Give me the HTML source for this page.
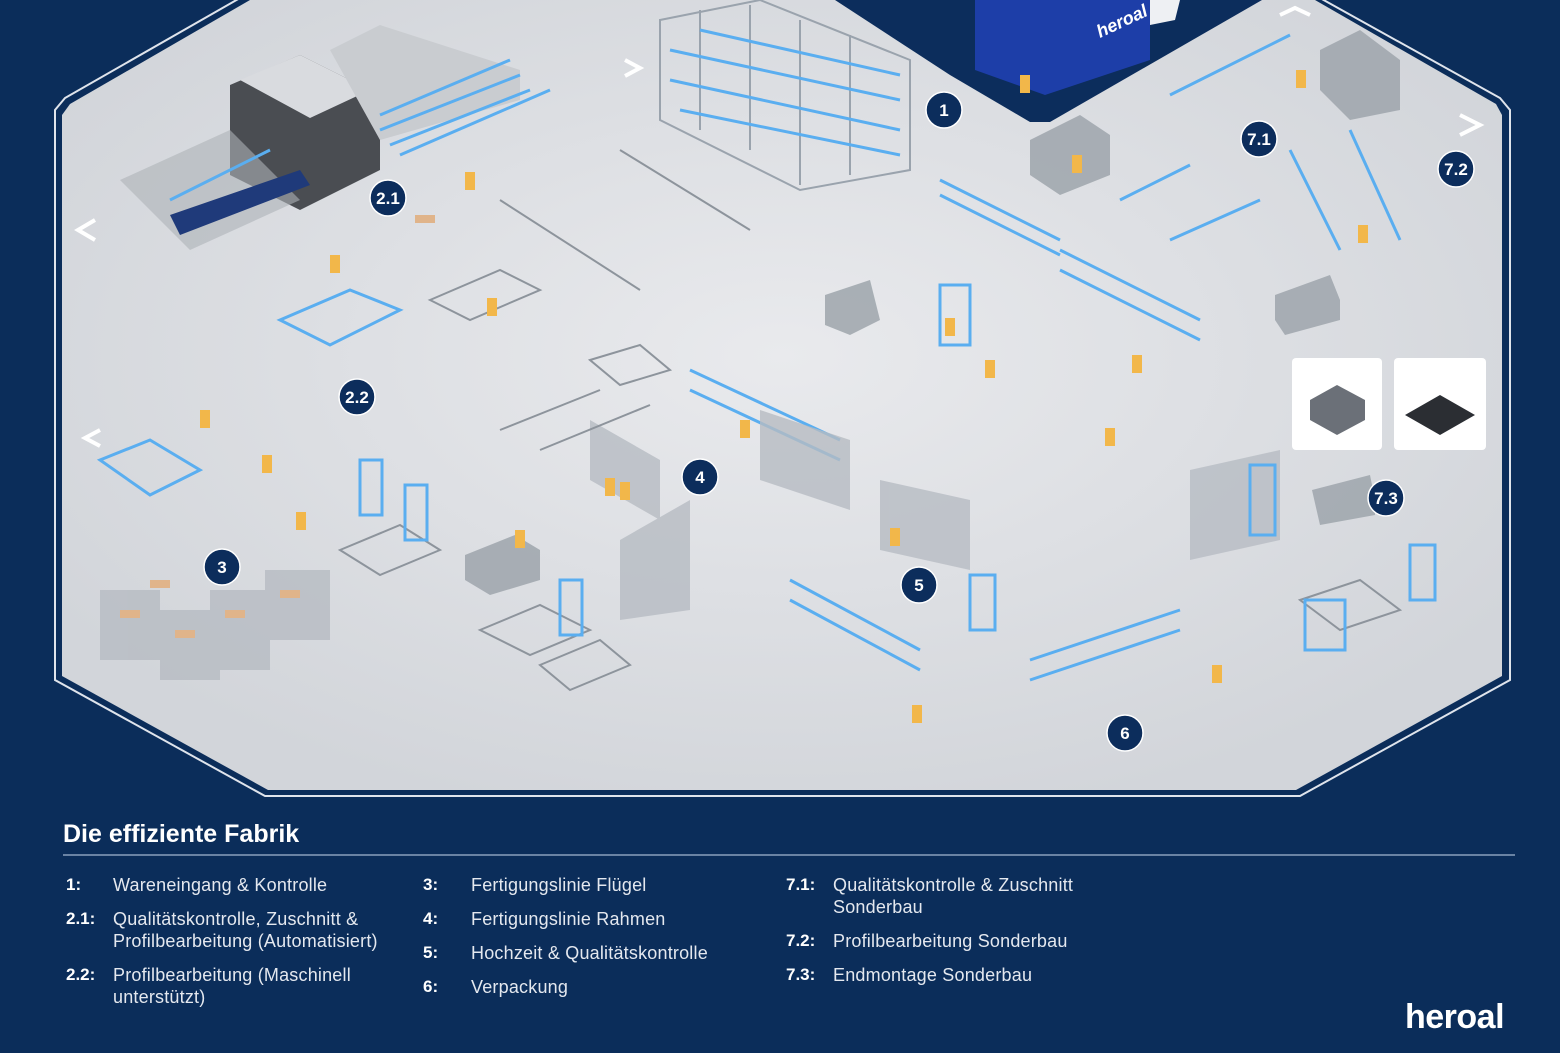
<!DOCTYPE html>
<html><head><meta charset="utf-8"><style>
html,body{margin:0;padding:0;background:#0b2d5a;width:1560px;height:1053px;overflow:hidden;font-family:"Liberation Sans",sans-serif}
.t{position:absolute;color:#e4e8ef;font-size:18px;line-height:22px;letter-spacing:0.2px}
.n{position:absolute;color:#fff;font-size:17px;font-weight:bold;line-height:22px}
</style></head><body>
<svg width="1560" height="1053" style="position:absolute;left:0;top:0">
<defs>
<radialGradient id="fl" cx="0.5" cy="0.45" r="0.6">
<stop offset="0" stop-color="#e9eaed"/><stop offset="1" stop-color="#d2d5da"/></radialGradient>
</defs>
<polygon points="240,-2 1320,-2 1500,98 1510,110 1510,680 1300,796 265,796 55,680 55,110 65,98" fill="none" stroke="#dfe4ec" stroke-width="2"/>
<polygon points="250,0 1315,0 1496,104 1502,115 1502,676 1296,790 268,790 62,676 62,115 70,104" fill="url(#fl)"/>
<!-- loading dock -->
<polygon points="835,0 1262,0 1050,122 1030,122 950,75" fill="#0c2d5c"/>
<polygon points="975,0 1150,0 1150,60 1045,95 975,70" fill="#1d3ea8"/>
<polygon points="1150,0 1180,0 1175,20 1150,25" fill="#eef0f3"/>
<text x="1100" y="38" fill="#fff" font-size="18" font-weight="bold" font-style="italic" transform="rotate(-25 1100 38)">heroal</text>
<!-- machine 2.1 -->
<polygon points="230,85 300,55 380,95 380,170 300,210 230,175" fill="#4a4d52"/>
<polygon points="240,80 300,55 370,90 310,118" fill="#d9dbdf"/>
<polygon points="120,180 230,130 300,200 190,250" fill="#aeb2b8" opacity="0.6"/>
<polygon points="170,215 300,170 310,185 180,235" fill="#1f3a7a"/>
<polygon points="330,50 380,25 520,70 520,100 380,140" fill="#c9ccd0"/>
<g stroke="#5aaef0" stroke-width="3">
<line x1="380" y1="115" x2="510" y2="60"/><line x1="380" y1="130" x2="520" y2="75"/><line x1="390" y1="145" x2="530" y2="90"/>
<line x1="400" y1="155" x2="550" y2="90"/><line x1="170" y1="200" x2="270" y2="150"/>
</g>
<g stroke="#9aa3ad" stroke-width="2" fill="none">
<polygon points="660,20 760,0 910,60 910,170 800,190 660,120"/>
<line x1="700" y1="10" x2="700" y2="130"/><line x1="750" y1="5" x2="750" y2="150"/><line x1="800" y1="20" x2="800" y2="185"/><line x1="850" y1="35" x2="850" y2="175"/>
</g>
<g stroke="#5aaef0" stroke-width="3">
<line x1="670" y1="50" x2="900" y2="100"/><line x1="670" y1="80" x2="900" y2="130"/><line x1="680" y1="110" x2="900" y2="155"/><line x1="700" y1="30" x2="900" y2="75"/>
<line x1="940" y1="180" x2="1060" y2="240"/><line x1="940" y1="195" x2="1060" y2="255"/>
<line x1="1060" y1="250" x2="1200" y2="320"/><line x1="1060" y1="270" x2="1200" y2="340"/>
<line x1="1170" y1="95" x2="1290" y2="35"/><line x1="1120" y1="200" x2="1190" y2="165"/><line x1="1170" y1="240" x2="1260" y2="200"/>
<line x1="690" y1="370" x2="840" y2="440"/><line x1="690" y1="390" x2="840" y2="460"/>
<line x1="1290" y1="150" x2="1340" y2="250"/><line x1="1350" y1="130" x2="1400" y2="240"/>
<line x1="790" y1="580" x2="920" y2="650"/><line x1="790" y1="600" x2="920" y2="670"/>
<line x1="1030" y1="660" x2="1180" y2="610"/><line x1="1030" y1="680" x2="1180" y2="630"/>
</g>
<g fill="#9ea4ac" opacity="0.85">
<polygon points="1030,140 1080,115 1110,135 1110,175 1060,195 1030,175"/>
<polygon points="1320,50 1360,30 1400,60 1400,110 1350,120 1320,90"/>
<polygon points="465,555 515,535 540,550 540,580 490,595 465,580"/>
<polygon points="1275,295 1330,275 1340,300 1340,320 1285,335 1275,320"/>
<polygon points="1312,490 1370,475 1375,500 1375,515 1320,525"/>
<polygon points="825,295 870,280 880,320 850,335 825,325"/>
</g>
<g fill="#b7bcc3" opacity="0.8">
<rect x="100" y="590" width="60" height="70"/><rect x="160" y="610" width="60" height="70"/><rect x="210" y="590" width="60" height="80"/><rect x="265" y="570" width="65" height="70"/>
<polygon points="590,420 660,460 660,520 590,480"/><polygon points="620,540 690,500 690,610 620,620"/>
<polygon points="760,410 850,440 850,510 760,480"/><polygon points="1190,470 1280,450 1280,540 1190,560"/>
<polygon points="880,480 970,500 970,570 880,550"/>
</g>
<g stroke="#8d949c" stroke-width="2" fill="none">
<polygon points="280,320 350,290 400,310 330,345"/><polygon points="430,300 500,270 540,290 470,320"/>
<polygon points="100,460 150,440 200,470 150,495"/><polygon points="340,550 400,525 440,550 380,575"/>
<polygon points="480,630 540,605 590,630 530,655"/><polygon points="540,665 600,640 630,665 570,690"/>
<polygon points="590,360 640,345 670,370 620,385"/><polygon points="1300,600 1360,580 1400,610 1340,630"/>
<line x1="500" y1="430" x2="600" y2="390"/><line x1="540" y1="450" x2="650" y2="405"/><line x1="620" y1="150" x2="750" y2="230"/><line x1="500" y1="200" x2="640" y2="290"/>
</g>
<g stroke="#5aaef0" stroke-width="3" fill="none">
<polygon points="280,320 350,290 400,310 330,345"/><polygon points="100,460 150,440 200,470 150,495"/>
<rect x="360" y="460" width="22" height="55"/><rect x="405" y="485" width="22" height="55"/><rect x="560" y="580" width="22" height="55"/>
<rect x="940" y="285" width="30" height="60"/><rect x="970" y="575" width="25" height="55"/><rect x="1410" y="545" width="25" height="55"/>
<rect x="1250" y="465" width="25" height="70"/><rect x="1305" y="600" width="40" height="50"/>
</g>
<rect x="1292" y="358" width="90" height="92" rx="4" fill="#fff"/>
<rect x="1394" y="358" width="92" height="92" rx="4" fill="#fff"/>
<polygon points="1310,400 1337,385 1365,400 1365,420 1337,435 1310,420" fill="#6b7078"/>
<polygon points="1405,415 1440,395 1475,415 1440,435" fill="#2b2e33"/>
<g fill="#f2b74a">
<rect x="465" y="172" width="10" height="18"/><rect x="330" y="255" width="10" height="18"/><rect x="487" y="298" width="10" height="18"/>
<rect x="200" y="410" width="10" height="18"/><rect x="262" y="455" width="10" height="18"/><rect x="296" y="512" width="10" height="18"/>
<rect x="605" y="478" width="10" height="18"/><rect x="620" y="482" width="10" height="18"/><rect x="740" y="420" width="10" height="18"/>
<rect x="515" y="530" width="10" height="18"/><rect x="890" y="528" width="10" height="18"/><rect x="945" y="318" width="10" height="18"/>
<rect x="985" y="360" width="10" height="18"/><rect x="1132" y="355" width="10" height="18"/><rect x="1105" y="428" width="10" height="18"/>
<rect x="1020" y="75" width="10" height="18"/><rect x="1072" y="155" width="10" height="18"/><rect x="1296" y="70" width="10" height="18"/>
<rect x="1358" y="225" width="10" height="18"/><rect x="1212" y="665" width="10" height="18"/><rect x="912" y="705" width="10" height="18"/>
</g>
<g fill="#e0b48a"><rect x="120" y="610" width="20" height="8"/><rect x="175" y="630" width="20" height="8"/><rect x="225" y="610" width="20" height="8"/><rect x="280" y="590" width="20" height="8"/><rect x="415" y="215" width="20" height="8"/><rect x="150" y="580" width="20" height="8"/></g>
<g stroke="#fff" stroke-width="4" fill="none">
<polyline points="95,220 78,230 95,240"/><polyline points="100,430 85,438 100,446"/><polyline points="1460,115 1480,125 1460,135"/>
<polyline points="1280,15 1295,8 1310,15"/><polyline points="625,60 640,68 625,76"/>
</g>
<g fill="#0c2d5c" stroke="#fff" stroke-width="1.5">
<circle cx="944" cy="110" r="18"/><circle cx="388" cy="198" r="18"/><circle cx="357" cy="397" r="18"/><circle cx="222" cy="567" r="18"/>
<circle cx="700" cy="477" r="18"/><circle cx="919" cy="585" r="18"/><circle cx="1125" cy="733" r="18"/><circle cx="1259" cy="139" r="18"/>
<circle cx="1456" cy="169" r="18"/><circle cx="1386" cy="498" r="18"/>
</g>
<g fill="#fff" font-size="17" font-weight="bold" text-anchor="middle" font-family="Liberation Sans,sans-serif">
<text x="944" y="116">1</text><text x="388" y="204">2.1</text><text x="357" y="403">2.2</text><text x="222" y="573">3</text>
<text x="700" y="483">4</text><text x="919" y="591">5</text><text x="1125" y="739">6</text><text x="1259" y="145">7.1</text>
<text x="1456" y="175">7.2</text><text x="1386" y="504">7.3</text>
</g>
<line x1="63" y1="855" x2="1515" y2="855" stroke="#8aa0bd" stroke-width="1.5"/>
</svg>
<div style="position:absolute;left:63px;top:820px;color:#fff;font-size:25px;font-weight:bold">Die effiziente Fabrik</div>
<div class="n" style="left:66px;top:874px">1:</div><div class="t" style="left:113px;top:874px">Wareneingang &amp; Kontrolle</div>
<div class="n" style="left:66px;top:908px">2.1:</div><div class="t" style="left:113px;top:908px">Qualitätskontrolle, Zuschnitt &amp;<br>Profilbearbeitung (Automatisiert)</div>
<div class="n" style="left:66px;top:964px">2.2:</div><div class="t" style="left:113px;top:964px">Profilbearbeitung (Maschinell<br>unterstützt)</div>
<div class="n" style="left:423px;top:874px">3:</div><div class="t" style="left:471px;top:874px">Fertigungslinie Flügel</div>
<div class="n" style="left:423px;top:908px">4:</div><div class="t" style="left:471px;top:908px">Fertigungslinie Rahmen</div>
<div class="n" style="left:423px;top:942px">5:</div><div class="t" style="left:471px;top:942px">Hochzeit &amp; Qualitätskontrolle</div>
<div class="n" style="left:423px;top:976px">6:</div><div class="t" style="left:471px;top:976px">Verpackung</div>
<div class="n" style="left:786px;top:874px">7.1:</div><div class="t" style="left:833px;top:874px">Qualitätskontrolle &amp; Zuschnitt<br>Sonderbau</div>
<div class="n" style="left:786px;top:930px">7.2:</div><div class="t" style="left:833px;top:930px">Profilbearbeitung Sonderbau</div>
<div class="n" style="left:786px;top:964px">7.3:</div><div class="t" style="left:833px;top:964px">Endmontage Sonderbau</div>
<div style="position:absolute;left:1405px;top:998px;color:#fff;font-size:34px;font-weight:bold;letter-spacing:-0.5px">heroal</div>
</body></html>
